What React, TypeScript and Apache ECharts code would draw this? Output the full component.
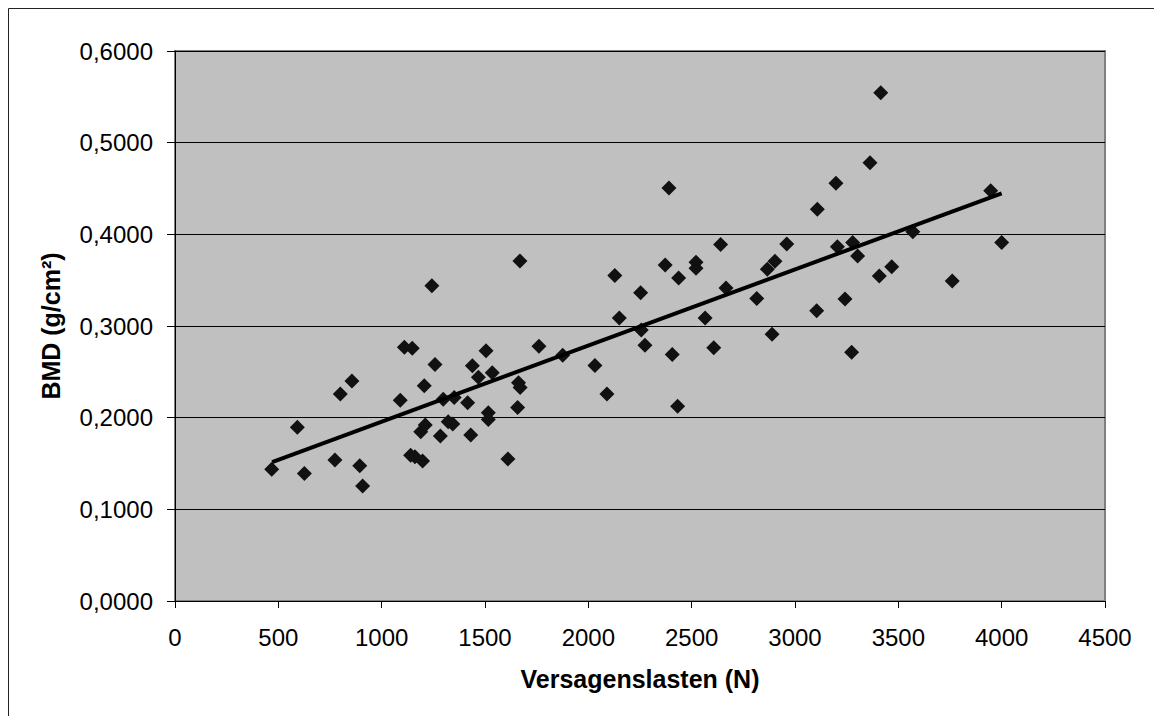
import React, { useEffect, useRef } from "react";
import * as echarts from "echarts";

const xValues = [
  468, 592, 626, 774, 800, 856, 894, 908, 1090, 1110, 1148, 1140, 1161, 1198, 1189, 1211, 1206, 1258, 1243,
  1284, 1298, 1322, 1344, 1351, 1416, 1431, 1439, 1468, 1505, 1516, 1516, 1535, 1611, 1658, 1662, 1670, 1669,
  1761, 1876, 2032, 2090, 2128, 2150, 2253, 2256, 2274, 2372, 2390, 2406, 2437, 2432, 2521, 2521, 2565, 2607,
  2640, 2666, 2815, 2866, 2903, 2889, 2960, 3105, 3108, 3198, 3205, 3242, 3274, 3279, 3303, 3363, 3408, 3415,
  3468, 3570, 3761, 3947, 4000,
];
const yValues = [
  0.1437, 0.1895, 0.139, 0.1538, 0.2258, 0.24, 0.1476, 0.1255, 0.219, 0.2767, 0.2756, 0.159, 0.1574, 0.1527,
  0.1847, 0.192, 0.2349, 0.258, 0.344, 0.18, 0.22, 0.1956, 0.193, 0.222, 0.2163, 0.181, 0.2567, 0.244, 0.273,
  0.2055, 0.198, 0.249, 0.155, 0.211, 0.238, 0.233, 0.371, 0.278, 0.268, 0.257, 0.2258, 0.355, 0.3087, 0.3363,
  0.2956, 0.279, 0.3665, 0.4505, 0.269, 0.3524, 0.2124, 0.3695, 0.363, 0.3087, 0.2764, 0.389, 0.3415, 0.33,
  0.362, 0.3706, 0.291, 0.3895, 0.3167, 0.4273, 0.4556, 0.3865, 0.3295, 0.2713, 0.391, 0.3764, 0.478, 0.3545,
  0.5545, 0.3647, 0.4029, 0.349, 0.4476, 0.391,
];
const trendX = [470, 4000];
const trendY = [0.1515, 0.4448];

const xTitle = "Versagenslasten (N)";
const yTitle = "BMD (g/cm²)";

export default function App() {
  const ref = useRef<HTMLDivElement>(null);
  useEffect(() => {
    if (!ref.current) return;
    const chart = echarts.init(ref.current, undefined, { renderer: "svg" });
    const font = "'Liberation Sans', Arial, sans-serif";
    const points = xValues.map((x, i) => [x, yValues[i]]);
    const trend = trendX.map((x, i) => [x, trendY[i]]);
    chart.setOption({
      animation: false,
      textStyle: { fontFamily: font },
      graphic: [
        {
          type: "rect",
          shape: { x: 8.5, y: 8.5, width: 1400, height: 1000 },
          style: { fill: "none", stroke: "#222", lineWidth: 1 },
          silent: true,
          z: -10,
        },
      ],
      grid: {
        left: 175,
        top: 51,
        right: 49,
        bottom: 115,
        show: true,
        backgroundColor: "#C0C0C0",
        borderColor: "#808080",
        borderWidth: 2,
      },
      xAxis: {
        type: "value",
        min: 0,
        max: 4500,
        interval: 500,
        name: xTitle,
        nameLocation: "middle",
        nameGap: 65,
        nameTextStyle: { fontSize: 25, fontWeight: "bold", color: "#000", fontFamily: font },
        axisLine: { show: true, onZero: false, lineStyle: { color: "#000", width: 1 } },
        axisTick: { show: true, length: 7, lineStyle: { color: "#000", width: 1 } },
        axisLabel: {
          fontSize: 24,
          color: "#000",
          margin: 24,
          fontFamily: font,
          formatter: (v: number) => String(v),
        },
        splitLine: { show: false },
      },
      yAxis: {
        type: "value",
        min: 0,
        max: 0.6,
        interval: 0.1,
        name: yTitle,
        nameLocation: "middle",
        nameGap: 112,
        nameTextStyle: { fontSize: 25, fontWeight: "bold", color: "#000", fontFamily: font },
        axisLine: { show: true, lineStyle: { color: "#000", width: 1 } },
        axisTick: { show: true, length: 8, lineStyle: { color: "#000", width: 1 } },
        axisLabel: {
          fontSize: 24,
          color: "#000",
          margin: 22,
          fontFamily: font,
          formatter: (v: number) => v.toFixed(4).replace(".", ","),
        },
        splitLine: { show: true, lineStyle: { color: "#000", width: 1 } },
      },
      series: [
        {
          type: "scatter",
          data: points,
          symbol: "diamond",
          symbolSize: 15,
          itemStyle: { color: "#111", opacity: 1 },
          z: 3,
        },
        {
          type: "line",
          data: trend,
          symbol: "none",
          lineStyle: { color: "#000", width: 4 },
          z: 4,
        },
      ],
    });
    return () => chart.dispose();
  }, []);
  return (
    <div
      ref={ref}
      style={{ position: "fixed", left: 0, top: 0, width: 1154, height: 716, background: "#fff" }}
    />
  );
}
